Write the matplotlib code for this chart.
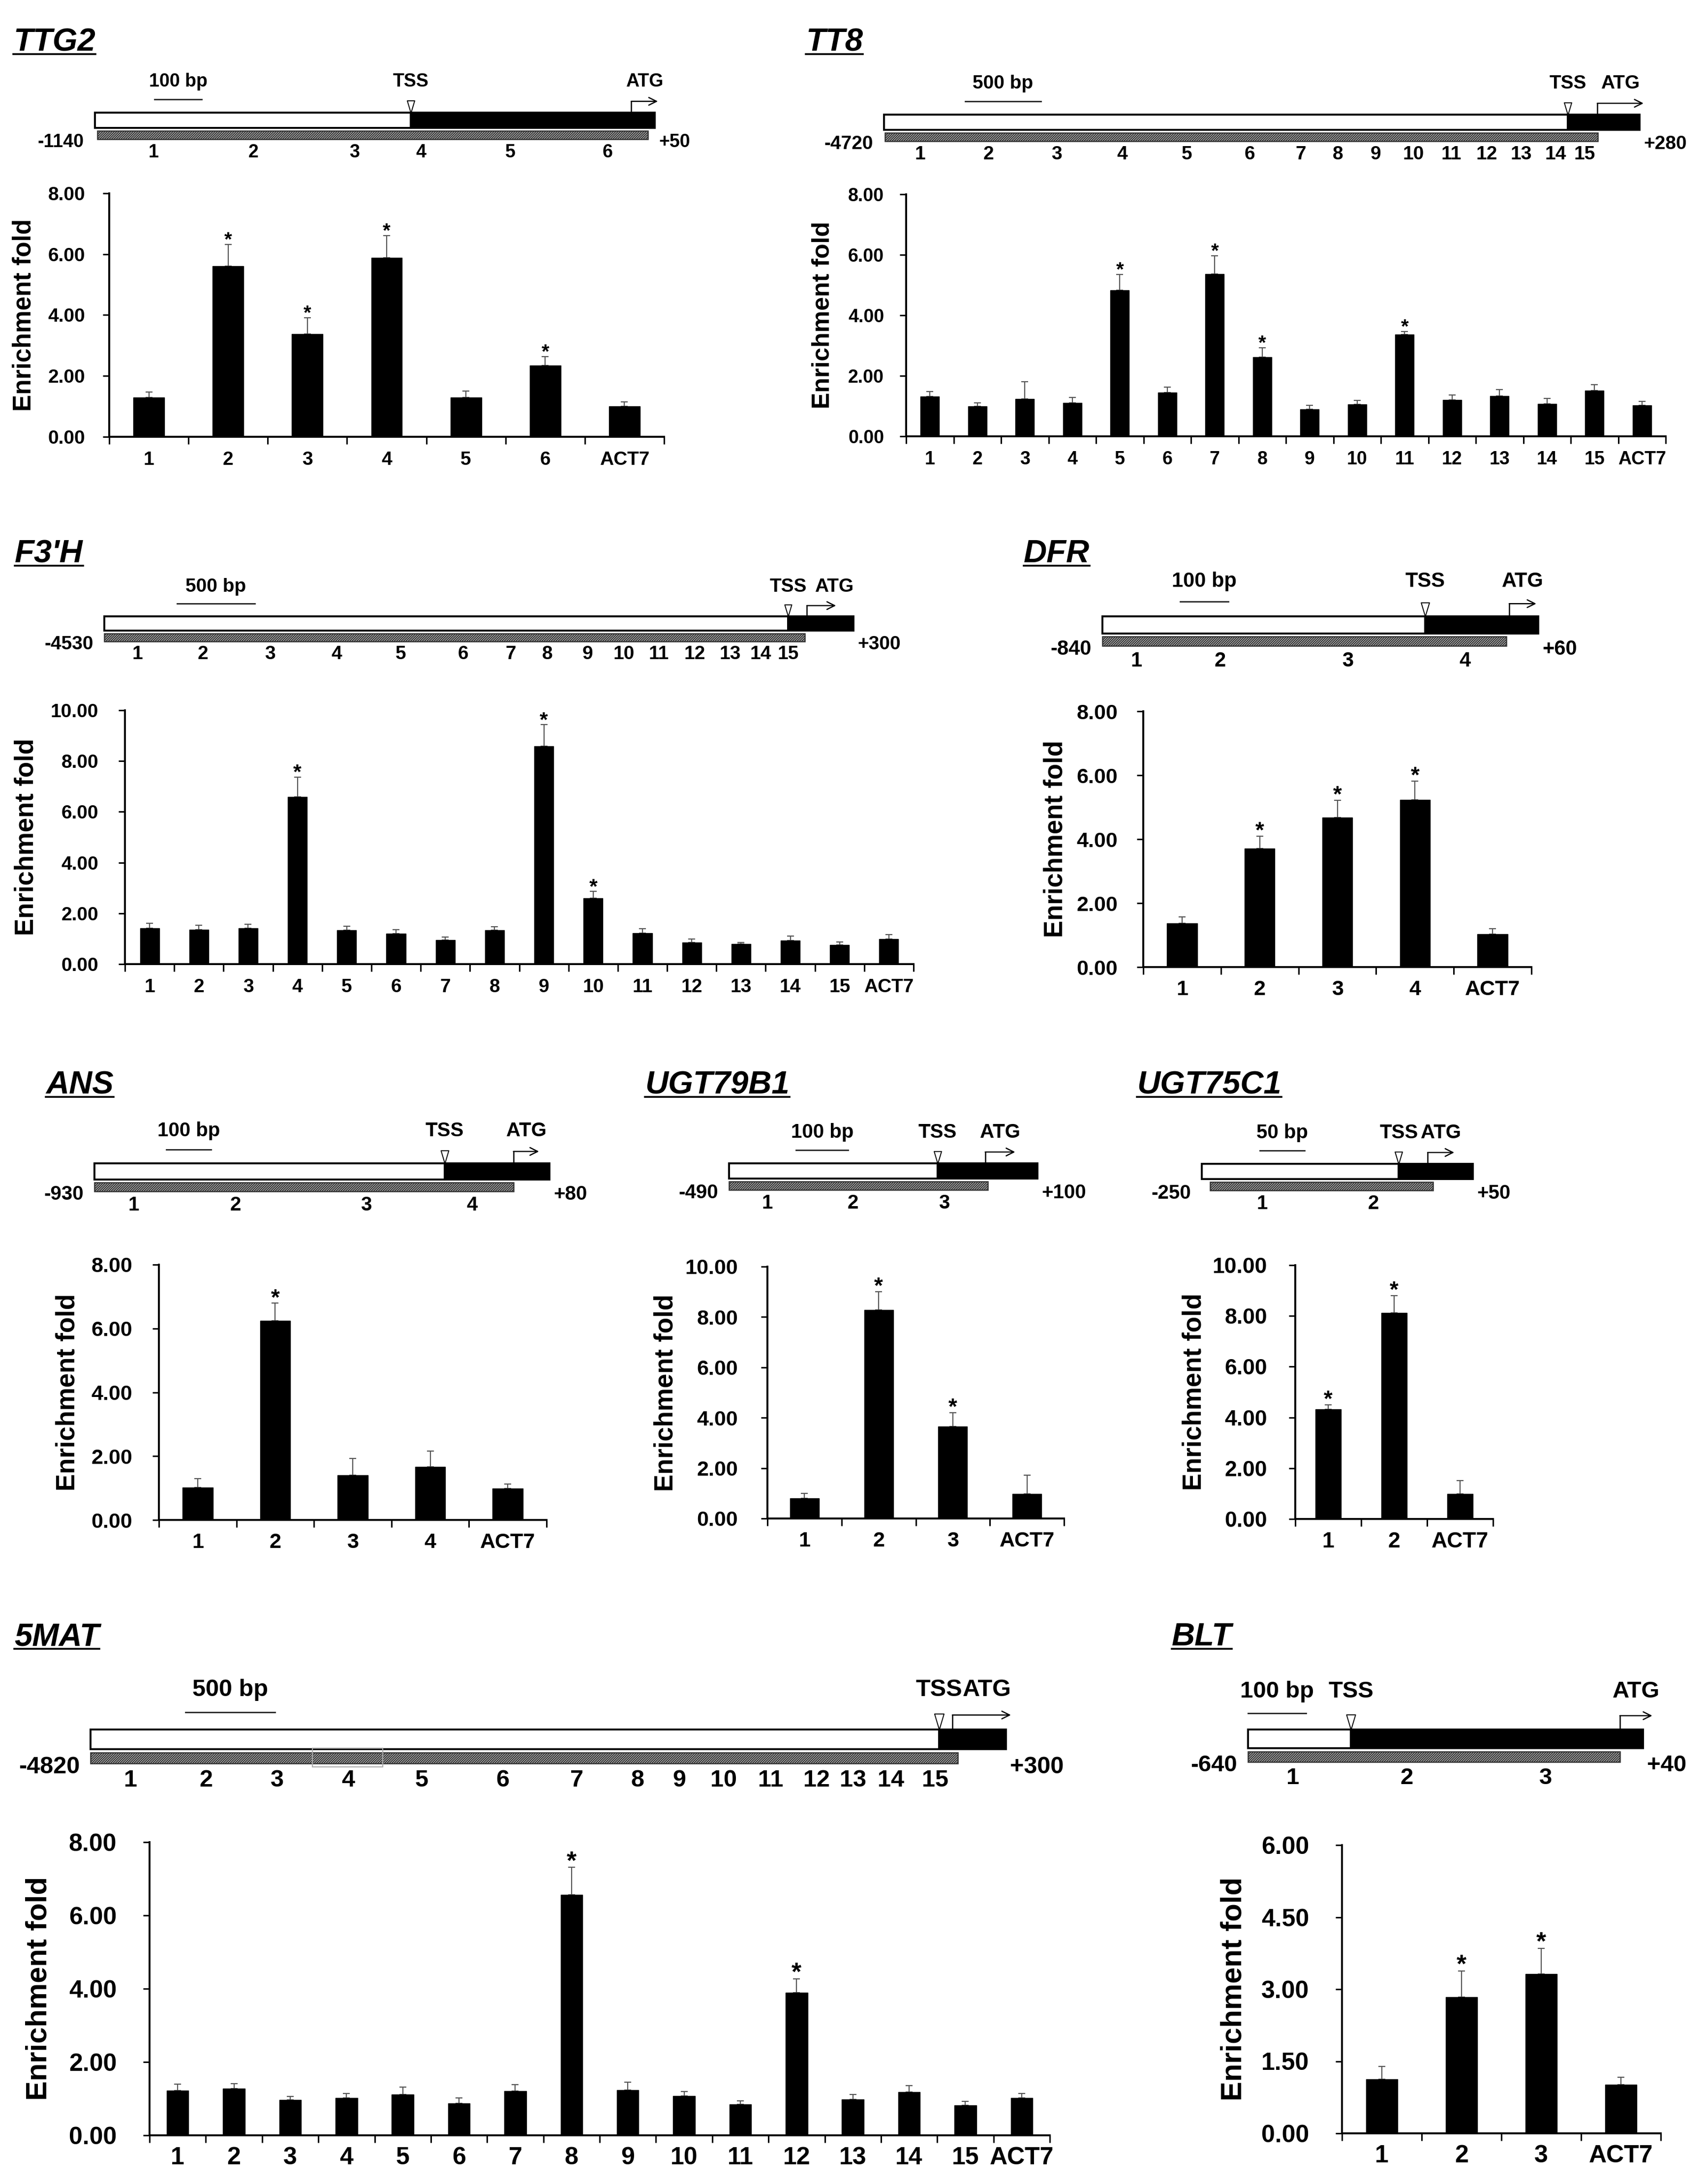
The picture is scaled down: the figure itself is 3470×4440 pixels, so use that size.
import numpy as np
import matplotlib
matplotlib.use("Agg")
import matplotlib.pyplot as plt
from matplotlib.patches import Rectangle
from matplotlib.lines import Line2D
from matplotlib.path import Path
from matplotlib.ticker import FormatStrFormatter

# ======================= DATA =======================
# TTG2
TTG2_values = [1.29, 5.60, 3.38, 5.88, 1.29, 2.34, 1.00]
TTG2_errors = [0.18, 0.72, 0.53, 0.73, 0.21, 0.30, 0.15]
TTG2_stars = [1, 2, 3, 5]
TTG2_region = dict(start=-1140, end=50, tss=-469, scale=100, hatch=(-1135, 35))
TTG2_fragments = [-1016, -803, -588, -447, -257, -50]

# TT8
TT8_values = [1.31, 0.99, 1.23, 1.11, 4.83, 1.45, 5.37, 2.62, 0.89, 1.05, 3.36, 1.20, 1.34, 1.07, 1.51, 1.02]
TT8_errors = [0.17, 0.12, 0.57, 0.17, 0.52, 0.18, 0.60, 0.31, 0.13, 0.13, 0.10, 0.16, 0.20, 0.18, 0.20, 0.14]
TT8_stars = [4, 6, 7, 10]
TT8_region = dict(start=-4720, end=280, tss=-195, scale=500, hatch=(-4713, 3))
TT8_fragments = [-4482, -4029, -3579, -3145, -2715, -2300, -1963, -1716, -1466, -1217, -967, -733, -503, -276, -84]

# F3'H
F3H_values = [1.42, 1.35, 1.42, 6.59, 1.33, 1.20, 0.95, 1.33, 8.58, 2.60, 1.22, 0.86, 0.79, 0.93, 0.75, 0.99]
F3H_errors = [0.18, 0.19, 0.15, 0.78, 0.16, 0.15, 0.12, 0.14, 0.86, 0.26, 0.18, 0.13, 0.07, 0.18, 0.13, 0.17]
F3H_stars = [3, 8, 9]
F3H_region = dict(start=-4530, end=300, tss=-122, scale=500, hatch=(-4530, -15))
F3H_fragments = [-4315, -3893, -3462, -3032, -2620, -2216, -1909, -1673, -1415, -1179, -955, -723, -494, -300, -120]

# DFR
DFR_values = [1.37, 3.71, 4.68, 5.23, 1.03]
DFR_errors = [0.20, 0.39, 0.54, 0.58, 0.17]
DFR_stars = [1, 2, 3]
DFR_region = dict(start=-840, end=60, tss=-174, scale=100, hatch=(-840, -6))
DFR_fragments = [-770, -597, -334, -91]

# ANS
ANS_values = [1.01, 6.25, 1.41, 1.66, 0.98]
ANS_errors = [0.29, 0.54, 0.51, 0.50, 0.15]
ANS_stars = [1]
ANS_region = dict(start=-930, end=80, tss=-153, scale=100, hatch=(-930, 0))
ANS_fragments = [-843, -617, -327, -92]

# UGT79B1
UGT79B1_values = [0.81, 8.28, 3.65, 0.97]
UGT79B1_errors = [0.19, 0.72, 0.55, 0.74]
UGT79B1_stars = [1, 2]
UGT79B1_region = dict(start=-490, end=100, tss=-91, scale=100, hatch=(-490, 5))
UGT79B1_fragments = [-417, -253, -79]

# UGT75C1
UGT75C1_values = [4.33, 8.12, 0.99]
UGT75C1_errors = [0.17, 0.68, 0.52]
UGT75C1_stars = [0, 1]
UGT75C1_region = dict(start=-250, end=50, tss=-32, scale=50, hatch=(-241, 6))
UGT75C1_fragments = [-183, -60]

# 5MAT
MAT5_values = [1.22, 1.27, 0.97, 1.02, 1.12, 0.87, 1.21, 6.57, 1.24, 1.08, 0.84, 3.89, 0.98, 1.18, 0.82, 1.02]
MAT5_errors = [0.18, 0.14, 0.09, 0.12, 0.19, 0.15, 0.17, 0.74, 0.21, 0.11, 0.10, 0.38, 0.13, 0.17, 0.10, 0.12]
MAT5_stars = [7, 11]
MAT5_region = dict(start=-4820, end=300, tss=-74, scale=500, hatch=(-4820, 30))
MAT5_fragments = [-4596, -4174, -3775, -3380, -2969, -2515, -2101, -1761, -1528, -1280, -1015, -759, -557, -344, -95]

# BLT
BLT_values = [1.13, 2.84, 3.32, 1.01]
BLT_errors = [0.26, 0.54, 0.53, 0.16]
BLT_stars = [1, 2]
BLT_region = dict(start=-640, end=40, tss=-463, scale=100, hatch=(-640, 0))
BLT_fragments = [-563, -367, -128]

GENES = [
    dict(name="TTG2", values=TTG2_values, errors=TTG2_errors, stars=TTG2_stars,
         region=TTG2_region, fragments=TTG2_fragments, ymax=8, ystep=2),
    dict(name="TT8", values=TT8_values, errors=TT8_errors, stars=TT8_stars,
         region=TT8_region, fragments=TT8_fragments, ymax=8, ystep=2),
    dict(name="F3'H", values=F3H_values, errors=F3H_errors, stars=F3H_stars,
         region=F3H_region, fragments=F3H_fragments, ymax=10, ystep=2),
    dict(name="DFR", values=DFR_values, errors=DFR_errors, stars=DFR_stars,
         region=DFR_region, fragments=DFR_fragments, ymax=8, ystep=2),
    dict(name="ANS", values=ANS_values, errors=ANS_errors, stars=ANS_stars,
         region=ANS_region, fragments=ANS_fragments, ymax=8, ystep=2),
    dict(name="UGT79B1", values=UGT79B1_values, errors=UGT79B1_errors, stars=UGT79B1_stars,
         region=UGT79B1_region, fragments=UGT79B1_fragments, ymax=10, ystep=2),
    dict(name="UGT75C1", values=UGT75C1_values, errors=UGT75C1_errors, stars=UGT75C1_stars,
         region=UGT75C1_region, fragments=UGT75C1_fragments, ymax=10, ystep=2),
    dict(name="5MAT", values=MAT5_values, errors=MAT5_errors, stars=MAT5_stars,
         region=MAT5_region, fragments=MAT5_fragments, ymax=8, ystep=2),
    dict(name="BLT", values=BLT_values, errors=BLT_errors, stars=BLT_stars,
         region=BLT_region, fragments=BLT_fragments, ymax=6, ystep=1.5),
]

# ======================= LAYOUT (pixels) =======================
W, H = 3470, 4440
LAYOUT = {
    "TTG2": dict(box=(193, 1331, 229), k=1.0, chart=(222, 393, 1350, 888), ylab_x=49, title=(27, 103),
                 fs_tick=28, fs_ylab=37, fs_diag=27, fs_star=29, arrow_px=54, atg_dx=0, scale_at=-1013, ytl_gap=49),
    "TT8": dict(box=(1797, 3333, 233), k=1.0, chart=(1842, 395, 3386, 887), ylab_x=1673, title=(1638, 103),
                fs_tick=27, fs_ylab=36, fs_diag=28, fs_star=29, arrow_px=94, atg_dx=0, scale_at=-4183, ytl_gap=45),
    "F3'H": dict(box=(212, 1735, 1253), k=0.95, chart=(254, 1444, 1857, 1960), ylab_x=53, title=(30, 1143),
                 fs_tick=28, fs_ylab=38, fs_diag=28, fs_star=31, arrow_px=59, atg_dx=26, scale_at=-4061, ytl_gap=54),
    "DFR": dict(box=(2241, 3127, 1253), k=1.12, chart=(2324, 1446, 3113, 1966), ylab_x=2146, title=(2081, 1143),
                fs_tick=31, fs_ylab=38, fs_diag=30, fs_star=33, arrow_px=55, atg_dx=0, scale_at=-680, ytl_gap=52),
    "ANS": dict(box=(192, 1117, 2365), k=1.05, chart=(323, 2571, 1111, 3090), ylab_x=137, title=(93, 2223),
                fs_tick=31, fs_ylab=38, fs_diag=29, fs_star=33, arrow_px=52, atg_dx=0, scale_at=-771, ytl_gap=54),
    "UGT79B1": dict(box=(1482, 2109, 2365), k=1.0, chart=(1560, 2575, 2163, 3087), ylab_x=1353, title=(1311, 2223),
                    fs_tick=31, fs_ylab=38, fs_diag=29, fs_star=33, arrow_px=61, atg_dx=0, scale_at=-362, ytl_gap=60),
    "UGT75C1": dict(box=(2443, 2994, 2366), k=1.0, chart=(2633, 2572, 3035, 3088), ylab_x=2428, title=(2311, 2223),
                    fs_tick=32, fs_ylab=38, fs_diag=29, fs_star=33, arrow_px=54, atg_dx=0, scale_at=-186, ytl_gap=57),
    "5MAT": dict(box=(184, 2045, 3516), k=1.28, chart=(304, 3745, 2134, 4341), ylab_x=79, title=(29, 3345),
                 fs_tick=36, fs_ylab=43, fs_diag=35, fs_star=37, arrow_px=119, atg_dx=11, scale_at=-4289, ytl_gap=67),
    "BLT": dict(box=(2537, 3340, 3516), k=1.22, chart=(2728, 3751, 3376, 4337), ylab_x=2508, title=(2382, 3345),
                fs_tick=36, fs_ylab=43, fs_diag=34, fs_star=37, arrow_px=66, atg_dx=0, scale_at=-640, ytl_gap=67),
}
TITLE_FS = 47
PX_PER_PT = 100 / 72.0

plt.rcParams["font.family"] = ["Liberation Sans", "DejaVu Sans"]
plt.rcParams["font.weight"] = "bold"
plt.rcParams["hatch.linewidth"] = 1.8
plt.rcParams["hatch.color"] = "#333333"

fig = plt.figure(figsize=(W / 100, H / 100), dpi=100)
fig.patch.set_facecolor("white")


def px_axes(l, t, r, b):
    return fig.add_axes([l / W, 1 - b / H, (r - l) / W, (b - t) / H])


TRI = Path([(-0.6, 1), (0.6, 1), (0, -1), (-0.6, 1)],
           [Path.MOVETO, Path.LINETO, Path.LINETO, Path.CLOSEPOLY])


def draw_diagram(g, L):
    reg = g["region"]
    start, end, tss, scale = reg["start"], reg["end"], reg["tss"], reg["scale"]
    k = L["k"]
    bl, br, bt = L["box"]
    ax = px_axes(bl, bt - 100 * k, br, bt + 110 * k)
    ax.set_xlim(start, end)
    ax.set_ylim(110 * k, -100 * k)
    ax.axis("off")
    ppb = (br - bl) / float(end - start)
    fs = L["fs_diag"]
    bh = 31 * k
    # promoter (white) + transcribed region (black)
    ax.add_patch(Rectangle((start, 0), tss - start, bh, facecolor="white", edgecolor="black",
                           lw=2.8, clip_on=False, zorder=2))
    ax.add_patch(Rectangle((tss, 0), end - tss, bh, facecolor="black", edgecolor="black",
                           lw=2.8, clip_on=False, zorder=2))
    # hatched fragment bar
    h0, h1 = reg["hatch"]
    ax.add_patch(Rectangle((h0, 37 * k), h1 - h0, 17 * k, facecolor="white", edgecolor="#333333",
                           lw=1.8, hatch="/" * 7, clip_on=False, zorder=2))
    if g["name"] == "5MAT":
        ax.add_patch(Rectangle((g["fragments"][3] - 200, 30 * k), 395, 29 * k, facecolor="none",
                               edgecolor="#aaaaaa", lw=1.5, clip_on=False, zorder=3))
    # scale bar
    s0 = L["scale_at"]
    ax.plot([s0, s0 + scale], [-27 * k, -27 * k], color="#222222", lw=2.0, clip_on=False)
    ax.text(s0 + scale / 2.0, -63 * k, "%d bp" % scale, ha="center", va="center", fontsize=fs)
    # TSS
    ax.plot([tss], [-12.5 * k], marker=TRI, ms=18 * k, mfc="white", mec="black", mew=1.4,
            clip_on=False, zorder=4)
    ax.text(tss, -63 * k, "TSS", ha="center", va="center", fontsize=fs)
    # ATG arrow
    alen = L["arrow_px"] / ppb
    ax.plot([0, 0], [0, -23 * k], color="black", lw=1.8, clip_on=False, zorder=4)
    ax.annotate("", xy=(alen, -23 * k), xytext=(0, -23 * k),
                arrowprops=dict(arrowstyle="->", lw=1.8, color="black", mutation_scale=28,
                                shrinkA=0, shrinkB=0), annotation_clip=False)
    ax.text(alen / 2.0 + L["atg_dx"] / ppb, -63 * k, "ATG", ha="center", va="center", fontsize=fs)
    # ends
    ax.text(start - 22 / ppb, 60 * k, "%d" % start, ha="right", va="center", fontsize=fs)
    ax.text(end + 8 / ppb, 60 * k, "+%d" % end, ha="left", va="center", fontsize=fs)
    # fragment numbers
    for i, c in enumerate(g["fragments"]):
        ax.text(c, 81 * k, str(i + 1), ha="center", va="center", fontsize=fs)


def draw_chart(g, L):
    cl, ct, cr, cb = L["chart"]
    ax = px_axes(cl, ct, cr, cb)
    vals = np.array(g["values"])
    errs = np.array(g["errors"])
    n = len(vals)
    x = np.arange(n)
    labels = [str(i + 1) for i in range(n - 1)] + ["ACT7"]
    ax.bar(x, vals, width=0.39, color="black", edgecolor="black", zorder=2)
    ax.errorbar(x, vals, yerr=[np.zeros(n), errs], fmt="none", ecolor="#555555",
                elinewidth=1.6, capsize=5, capthick=1.6, zorder=1)
    for i in g["stars"]:
        ax.annotate("*", (x[i], vals[i] + errs[i]), xytext=(0, -2), textcoords="offset points",
                    ha="center", va="baseline", fontsize=L["fs_star"], fontweight="bold",
                    annotation_clip=False)
    ax.set_xlim(-0.5, n - 0.5)
    ax.set_ylim(0, g["ymax"])
    ax.set_yticks(np.arange(0, g["ymax"] + g["ystep"] / 2.0, g["ystep"]))
    ax.yaxis.set_major_formatter(FormatStrFormatter("%.2f"))
    ax.set_xticks(np.arange(-0.5, n, 1.0))
    ax.set_xticklabels([])
    ax.set_xticks(x, minor=True)
    ax.set_xticklabels(labels, minor=True)
    fs = L["fs_tick"]
    xpad = (50 - 0.55 * fs * PX_PER_PT) / PX_PER_PT
    ax.tick_params(axis="x", which="minor", length=0, pad=xpad, labelsize=fs)
    ax.tick_params(axis="x", which="major", length=15 / PX_PER_PT, width=2.2, direction="out")
    ypad = (L["ytl_gap"] - 13) / PX_PER_PT
    ax.tick_params(axis="y", length=13 / PX_PER_PT, width=2.2, direction="out", pad=ypad, labelsize=fs)
    for s in ("top", "right"):
        ax.spines[s].set_visible(False)
    for s in ("left", "bottom"):
        ax.spines[s].set_linewidth(2.8)
    ax.set_facecolor("none")
    fig.text(L["ylab_x"] / W, 1 - (ct + cb) / 2.0 / H, "Enrichment fold", rotation=90,
             ha="center", va="center", fontsize=L["fs_ylab"], fontweight="bold")


titles = []
for g in GENES:
    L = LAYOUT[g["name"]]
    draw_diagram(g, L)
    draw_chart(g, L)
    tx, ty = L["title"]
    t = fig.text(tx / W, 1 - ty / H, g["name"], ha="left", va="baseline", fontsize=TITLE_FS,
                 fontweight="bold", fontstyle="italic")
    titles.append((t, ty))

fig.canvas.draw()
r = fig.canvas.get_renderer()
for t, ty in titles:
    bb = t.get_window_extent(r)
    yy = 1 - (ty + 7) / H
    fig.add_artist(Line2D([bb.x0 / W, bb.x1 / W], [yy, yy], transform=fig.transFigure,
                          color="black", lw=2.6))

fig.savefig("out.png", dpi=100, facecolor="white")
